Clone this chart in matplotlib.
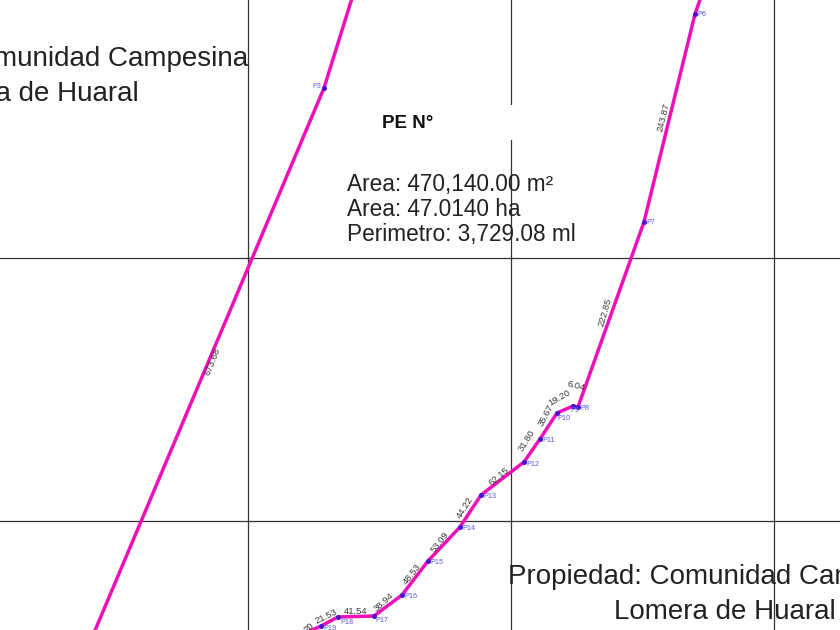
import matplotlib
matplotlib.use("Agg")
import matplotlib.pyplot as plt
from matplotlib.patches import Rectangle

plt.rcParams['font.family'] = ['Liberation Sans', 'DejaVu Sans']

# Boundary vertices
west_x = [353, 324, 93.5]
west_y = [-5, 88, 634]
east_x = [702, 695, 644, 578, 573, 557, 540, 524, 481, 460, 428, 402, 374, 338, 321, 303]
east_y = [-6, 14, 222, 407, 406, 413, 439, 462, 495, 527, 561, 595, 616, 617, 626, 634]

# Named vertices
point_names = ['P3', 'P6', 'P7', 'P8', 'P9', 'P10', 'P11', 'P12', 'P13', 'P14', 'P15', 'P16', 'P17', 'P18', 'P19']
point_x = [324, 695, 644, 578, 573, 557, 540, 524, 481, 460, 428, 402, 374, 338, 321]
point_y = [88, 14, 222, 407, 406, 413, 439, 462, 495, 527, 561, 595, 616, 617, 626]
name_dx = [-12, 2, 2, 2, -3, 0, 2, 2, 2, 2, 2, 2, 1, 2, 2]
name_dy = [-1, 1, 0, 1, 4, 5, 1, 3, 1, 2, 2, 2, 5, 5, 3]

# Segment lengths
seg_labels = ['673.68', '243.87', '222.85', '6.04', '19.20', '35.67', '31.80', '62.15', '44.22',
              '53.09', '48.53', '38.94', '41.54', '21.53', '20']
seg_x = [213, 664, 605, 576, 559, 546, 527, 499, 465, 440, 412, 384, 356, 326, 309]
seg_y = [362, 117, 312, 386, 398, 415, 441, 476, 508, 542, 574, 602, 612, 617, 628]
seg_rot = [68, 76, 74, -15, 30, 62, 58, 40, 58, 52, 52, 42, 0, 26, 40]

# Grid lines
grid_v = [248, 511, 774]
grid_h = [258, 521]

fig = plt.figure(figsize=(8.4, 6.3), dpi=100)
ax = fig.add_axes([0, 0, 1, 1])
ax.set_xlim(0, 840)
ax.set_ylim(630, 0)
ax.axis('off')

for x in grid_v:
    ax.axvline(x, color='#333333', lw=0.9, zorder=1)
for y in grid_h:
    ax.axhline(y, color='#333333', lw=0.9, zorder=1)

# White mask behind the title
ax.add_patch(Rectangle((372, 105), 141, 35, fc='white', ec='none', zorder=2))

line_kw = dict(color='#ee10b8', lw=2.5, zorder=3, solid_joinstyle='round')
ax.plot(west_x, west_y, **line_kw)
ax.plot(east_x, east_y, **line_kw)
ax.plot(point_x, point_y, ls='none', marker='o', ms=3.6, color='#4a10d0', mec='none', zorder=4)

for n, x, y, dx, dy in zip(point_names, point_x, point_y, name_dx, name_dy):
    ax.text(x + dx, y + dy, n, fontsize=5.2, color='#5a5ae0', va='center', ha='left', zorder=5)

for s, x, y, r in zip(seg_labels, seg_x, seg_y, seg_rot):
    ax.text(x, y, s, fontsize=6.8, color='#3a3a3a', rotation=r, rotation_mode='anchor',
            ha='center', va='center', zorder=5)

big = dict(fontsize=20, color='#222222', zorder=6, va='center')
ax.text(248, 59, 'Propiedad: Comunidad Campesina', ha='right', **big)
ax.text(139, 94, 'Lomera de Huaral', ha='right', **big)
ax.text(508, 577, 'Propiedad: Comunidad Campesina', ha='left', **big)
ax.text(836, 612, 'Lomera de Huaral', ha='right', **big)

ax.text(408, 124, 'PE N°', fontsize=13.5, fontweight='bold', color='#111111',
        ha='center', va='center', zorder=6)

info = dict(fontsize=16.3, color='#222222', ha='left', va='center', zorder=6)
ax.text(347, 185, 'Area: 470,140.00 m²', **info)
ax.text(347, 209, 'Area: 47.0140 ha', **info)
ax.text(347, 234, 'Perimetro: 3,729.08 ml', **info)

fig.savefig('out.png', dpi=100)
